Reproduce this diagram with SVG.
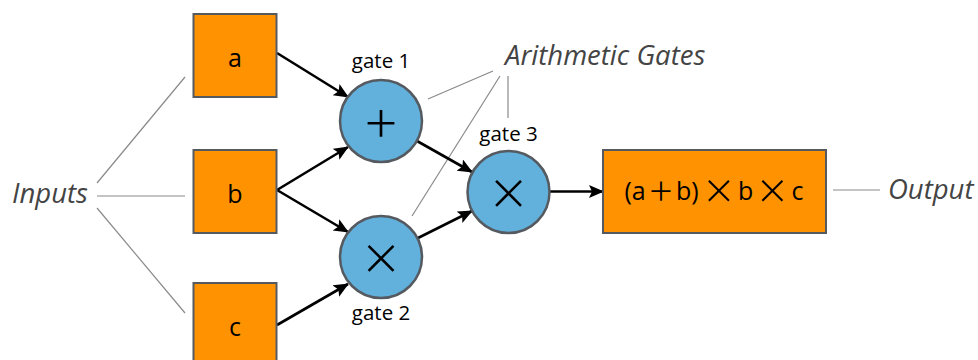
<svg xmlns="http://www.w3.org/2000/svg" width="978" height="360" viewBox="0 0 978 360">
<style>
.box{fill:#FF9200;stroke:#555a60;stroke-width:2}
.gate{fill:#62B0DC;stroke:#555a60;stroke-width:2.5}
.lbl{font-family:"Open Sans","Noto Sans",sans-serif;fill:#000}
.var{font-size:25px;text-anchor:middle}
.gl{font-size:20.5px;text-anchor:middle}
.op{font-family:Inter,"DejaVu Sans",sans-serif;text-anchor:middle;font-weight:180;fill:#000}
.x{font-family:Inter,"DejaVu Sans",sans-serif;font-weight:200}
.note{font-family:"Open Sans","Noto Sans",sans-serif;font-style:italic;fill:#444;font-size:27.5px}
.ann{stroke:#8a8a8a;stroke-width:1.2;fill:none}
.arr{stroke:#000;stroke-width:2.6;fill:none;marker-end:url(#ah)}
</style>
<defs>
<marker id="ah" markerUnits="userSpaceOnUse" markerWidth="16" markerHeight="14" refX="14" refY="6.5" orient="auto">
<path d="M0,0 L15,6.5 L0,13 L3,6.5 z" fill="#000"/>
</marker>
</defs>
<g id="annotations">
<line class="ann" x1="97" y1="183" x2="185" y2="77"/>
<line class="ann" x1="97" y1="196" x2="185" y2="196"/>
<line class="ann" x1="97" y1="208" x2="185" y2="313"/>
<line class="ann" x1="493" y1="71" x2="428" y2="99"/>
<line class="ann" x1="500" y1="76" x2="412" y2="216"/>
<line class="ann" x1="508" y1="76" x2="508" y2="118"/>
<line class="ann" x1="833" y1="190" x2="880" y2="190"/>
<text class="note" x="12" y="203">Inputs</text>
<text class="note" x="505" y="65">Arithmetic Gates</text>
<text class="note" x="888" y="199">Output</text>
</g>
<g id="connectors">
<line class="arr" x1="277" y1="53" x2="348" y2="97"/>
<line class="arr" x1="277" y1="190" x2="348" y2="147"/>
<line class="arr" x1="277" y1="190" x2="348" y2="232"/>
<line class="arr" x1="277" y1="325" x2="348" y2="284"/>
<line class="arr" x1="417" y1="141" x2="472" y2="172"/>
<line class="arr" x1="418" y1="238" x2="472" y2="211"/>
<line class="arr" x1="550" y1="191.5" x2="603" y2="191.5"/>
</g>
<g id="node-a">
<rect class="box" x="193.5" y="14" width="83" height="83"/>
<text class="lbl var" x="235" y="66.5">a</text>
</g>
<g id="node-b">
<rect class="box" x="193.5" y="150" width="83" height="83"/>
<text class="lbl var" x="235" y="202.5">b</text>
</g>
<g id="node-c">
<rect class="box" x="193.5" y="283" width="83" height="83"/>
<text class="lbl var" x="235" y="335.5">c</text>
</g>
<g id="gate1">
<circle class="gate" cx="381" cy="121" r="41"/>
<text class="op" x="381" y="140.5" font-size="62">+</text>
<text class="lbl gl" x="381" y="68">gate 1</text>
</g>
<g id="gate2">
<circle class="gate" cx="381" cy="257" r="41"/>
<text class="op" x="381" y="276" font-size="62">×</text>
<text class="lbl gl" x="381" y="320">gate 2</text>
</g>
<g id="gate3">
<circle class="gate" cx="508.5" cy="192" r="41"/>
<text class="op" x="508.5" y="211" font-size="62">×</text>
<text class="lbl gl" x="508.5" y="141">gate 3</text>
</g>
<g id="output">
<rect class="box" x="603" y="150" width="223" height="83"/>
<text class="lbl var" x="714" y="199.5">(a<tspan class="x" font-size="44" dx="1" dy="4">+</tspan><tspan dx="1" dy="-4">b)</tspan><tspan class="x" font-size="50" dx="4" dy="5">×</tspan><tspan dx="3" dy="-5">b</tspan><tspan class="x" font-size="50" dx="3" dy="5">×</tspan><tspan dx="3" dy="-5">c</tspan></text>
</g>
</svg>
